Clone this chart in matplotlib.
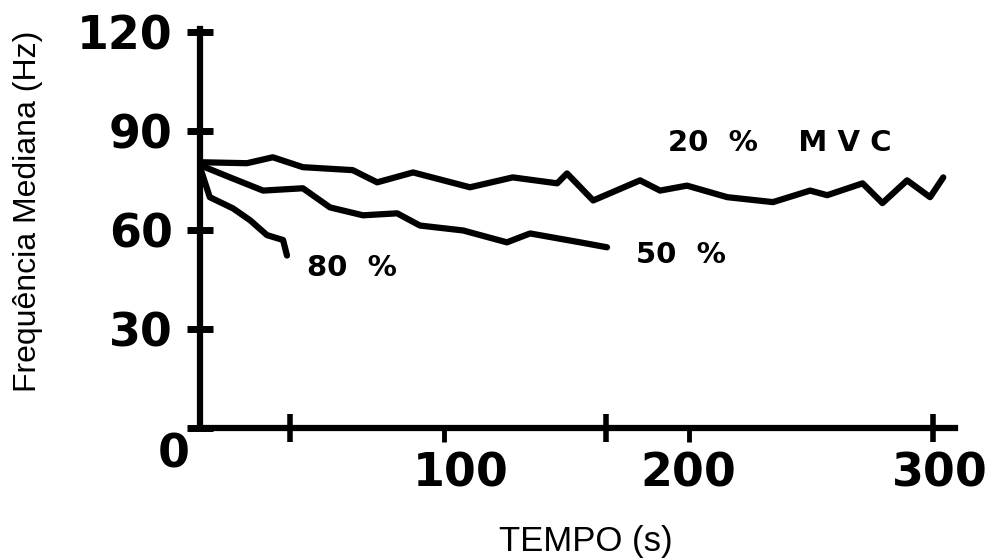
import matplotlib
matplotlib.use("Agg")
import matplotlib.pyplot as plt
from matplotlib.transforms import ScaledTranslation

# ---- data ----
t_20 = [0, 19.2, 29.8, 42.1, 62.5, 72.5, 87.2, 110.5, 128, 146.2, 150.2, 160.9, 180.1,
        188.3, 199.3, 215.8, 234.5, 249.7, 256.7, 271.2, 279.3, 289.4, 298.8, 304.2]
f_20 = [80.6, 80.3, 82.1, 79.1, 78.2, 74.5, 77.5, 73.0, 76.0, 74.2, 77.2, 69.0, 75.1,
        72.0, 73.5, 70.0, 68.5, 72.0, 70.6, 74.2, 68.2, 75.1, 70.0, 76.0]

t_50 = [0, 12.3, 25.8, 42.1, 53.2, 66.7, 80.7, 90.0, 107.7, 125.6, 135.1, 155.6, 166.6]
f_50 = [79.7, 76.0, 72.0, 72.7, 66.9, 64.5, 65.1, 61.4, 59.9, 56.3, 59.0, 56.3, 54.8]

t_80 = [0, 4, 13.5, 20.5, 27.4, 34.0, 35.6]
f_80 = [79.1, 70.0, 66.6, 63.0, 58.5, 57.0, 52.3]

y_ticks = [0, 30, 60, 90, 120]
y_ticklabels = ["0", "30", "60", "90", "120"]
x_ticks = [100, 200]
x_ticklabels = ["100", "200"]
x_cross_ticks = [37, 166, 300]
x_cross_labels = ["", "", "300"]

series_labels = ["20  %    M V C", "50  %", "80  %"]
label_pos = [(237.4, 86.4), (196.9, 52.4), (62.2, 48.5)]

# ---- figure ----
fig = plt.figure(figsize=(9.99, 5.59), dpi=100)
ax = fig.add_axes([200/999, 131/559, 755/999, 399/559])

for t, f in [(t_20, f_20), (t_50, f_50), (t_80, f_80)]:
    ax.plot(t, f, color="black", lw=4.5, solid_capstyle="round", solid_joinstyle="round")

ax.set_xlim(0, 309)
ax.set_ylim(0, 121)

for s in ["top", "right"]:
    ax.spines[s].set_visible(False)
for s in ["left", "bottom"]:
    ax.spines[s].set_linewidth(4.5)

tick_font = dict(family="DejaVu Sans", weight="bold", size=33)

ax.set_yticks(y_ticks)
ax.set_yticklabels(y_ticklabels, fontdict=tick_font)
ax.tick_params(axis="y", direction="inout", length=19, width=5, pad=10)

ax.set_xticks(x_ticks)
ax.set_xticklabels(x_ticklabels, fontdict=tick_font)
ax.set_xticks(x_cross_ticks, minor=True)
ax.set_xticklabels(x_cross_labels, minor=True, fontdict=tick_font)
ax.tick_params(axis="x", which="major", direction="out", length=10, width=3.5, pad=7)
ax.tick_params(axis="x", which="minor", direction="inout", length=20, width=4, pad=7)

# hand-lettered label offsets
def shift(lbl, dx_px, dy_px):
    lbl.set_transform(lbl.get_transform() +
                      ScaledTranslation(dx_px / 100, dy_px / 100, fig.dpi_scale_trans))

shift(ax.get_yticklabels()[0], 17, -22)
shift(ax.get_xticklabels()[0], 16, 0)
shift(ax.get_xticklabels(minor=True)[2], 7, 0)

for txt, (x, y) in zip(series_labels, label_pos):
    ax.text(x, y, txt, ha="center", va="center", fontsize=21, fontweight="bold",
            family="DejaVu Sans")

fig.text(28/999, 1 - 211/559, "Frequência Mediana (Hz)", rotation=90,
         ha="center", va="center", family="Liberation Sans", fontsize=23)
fig.text(586/999, 1 - 541/559, "TEMPO (s)", ha="center", va="center",
         family="Liberation Sans", fontsize=25)

fig.savefig("out.png", dpi=100, facecolor="white")
